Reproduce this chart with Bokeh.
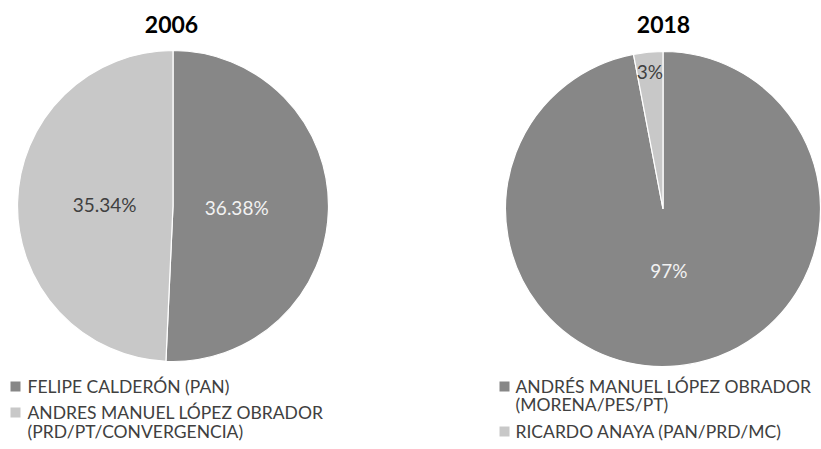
import math
from bokeh.plotting import figure
from bokeh.models import Range1d, ColumnDataSource
from bokeh.core.properties import value
from bokeh.embed import file_html
from bokeh.resources import INLINE

# ---- data ----
years = ["2006", "2018"]
cands_2006 = [["FELIPE CALDERÓN (PAN)"],
              ["ANDRES MANUEL LÓPEZ OBRADOR", "(PRD/PT/CONVERGENCIA)"]]
vals_2006 = [36.38, 35.34]
labels_2006 = ["36.38%", "35.34%"]
cands_2018 = [["ANDRÉS MANUEL LÓPEZ OBRADOR", "(MORENA/PES/PT)"],
              ["RICARDO ANAYA (PAN/PRD/MC)"]]
vals_2018 = [97, 3]
labels_2018 = ["97%", "3%"]

# ---- style ----
DARK = "#878787"
LIGHT = "#c8c8c8"
TXT = "#404040"
FONT = "Lato"

W, H = 821, 449
p = figure(width=W, height=H, x_range=Range1d(0, W), y_range=Range1d(0, H),
           output_backend="svg", toolbar_location=None, min_border=0,
           x_axis_location=None, y_axis_location=None)
p.grid.visible = False
p.outline_line_color = None
p.background_fill_color = "white"


def X(sx):
    return sx


def Y(sy):
    return H - sy


def pie(cx, cy, r, vals, labels, colors, lab_colors, lab_fracs):
    total = float(sum(vals))
    starts, ends, lx, ly = [], [], [], []
    cum = 0.0
    for v, f in zip(vals, lab_fracs):
        a_end = math.pi / 2 - 2 * math.pi * cum / total
        a_start = math.pi / 2 - 2 * math.pi * (cum + v) / total
        starts.append(a_start)
        ends.append(a_end)
        mid = (a_start + a_end) / 2
        lx.append(X(cx) + f * r * math.cos(mid))
        ly.append(Y(cy) + f * r * math.sin(mid))
        cum += v
    src = ColumnDataSource(dict(start=starts, end=ends, color=colors))
    p.wedge(x=X(cx), y=Y(cy), radius=r, start_angle="start", end_angle="end",
            fill_color="color", line_color="white", line_width=1.2, source=src)
    lsrc = ColumnDataSource(dict(x=lx, y=ly, t=labels, c=lab_colors))
    p.text(x="x", y="y", text="t", text_color="c", source=lsrc,
           text_font=value(FONT), text_font_size="19px",
           text_align="center", text_baseline="middle")


pie(172.5, 205.5, 155.5, vals_2006, labels_2006, [DARK, LIGHT],
    ["#f2f2f2", TXT], [0.41, 0.44])
pie(662.5, 208.5, 157.5, vals_2018, labels_2018, [DARK, LIGHT],
    ["#f2f2f2", TXT], [0.39, 0.88])

# titles
p.text(x=[X(171), X(663)], y=[Y(24), Y(24)], text=years, text_color="black",
       text_font=value(FONT), text_font_style="bold", text_font_size="23px",
       text_align="center", text_baseline="middle")


def legend(sq_x, tx, rows, cands, colors):
    sqx, sqy, tt, ttx, tty = [], [], [], [], []
    i = 0
    for lines, col in zip(cands, colors):
        sqx.append(X(sq_x))
        sqy.append(Y(rows[i]))
        for ln in lines:
            tt.append(ln)
            ttx.append(X(tx))
            tty.append(Y(rows[i]))
            i += 1
    p.rect(x=sqx, y=sqy, width=10, height=10, fill_color=colors,
           line_color=None)
    p.text(x=ttx, y=tty, text=tt, text_color=TXT, text_font=value(FONT),
           text_font_size="17.5px", text_align="left", text_baseline="middle")


legend(15, 27, [386, 412, 431], cands_2006, [DARK, LIGHT])
legend(504, 515, [386, 404, 431], cands_2018, [DARK, LIGHT])

open("out.html", "w").write(file_html(p, INLINE))
